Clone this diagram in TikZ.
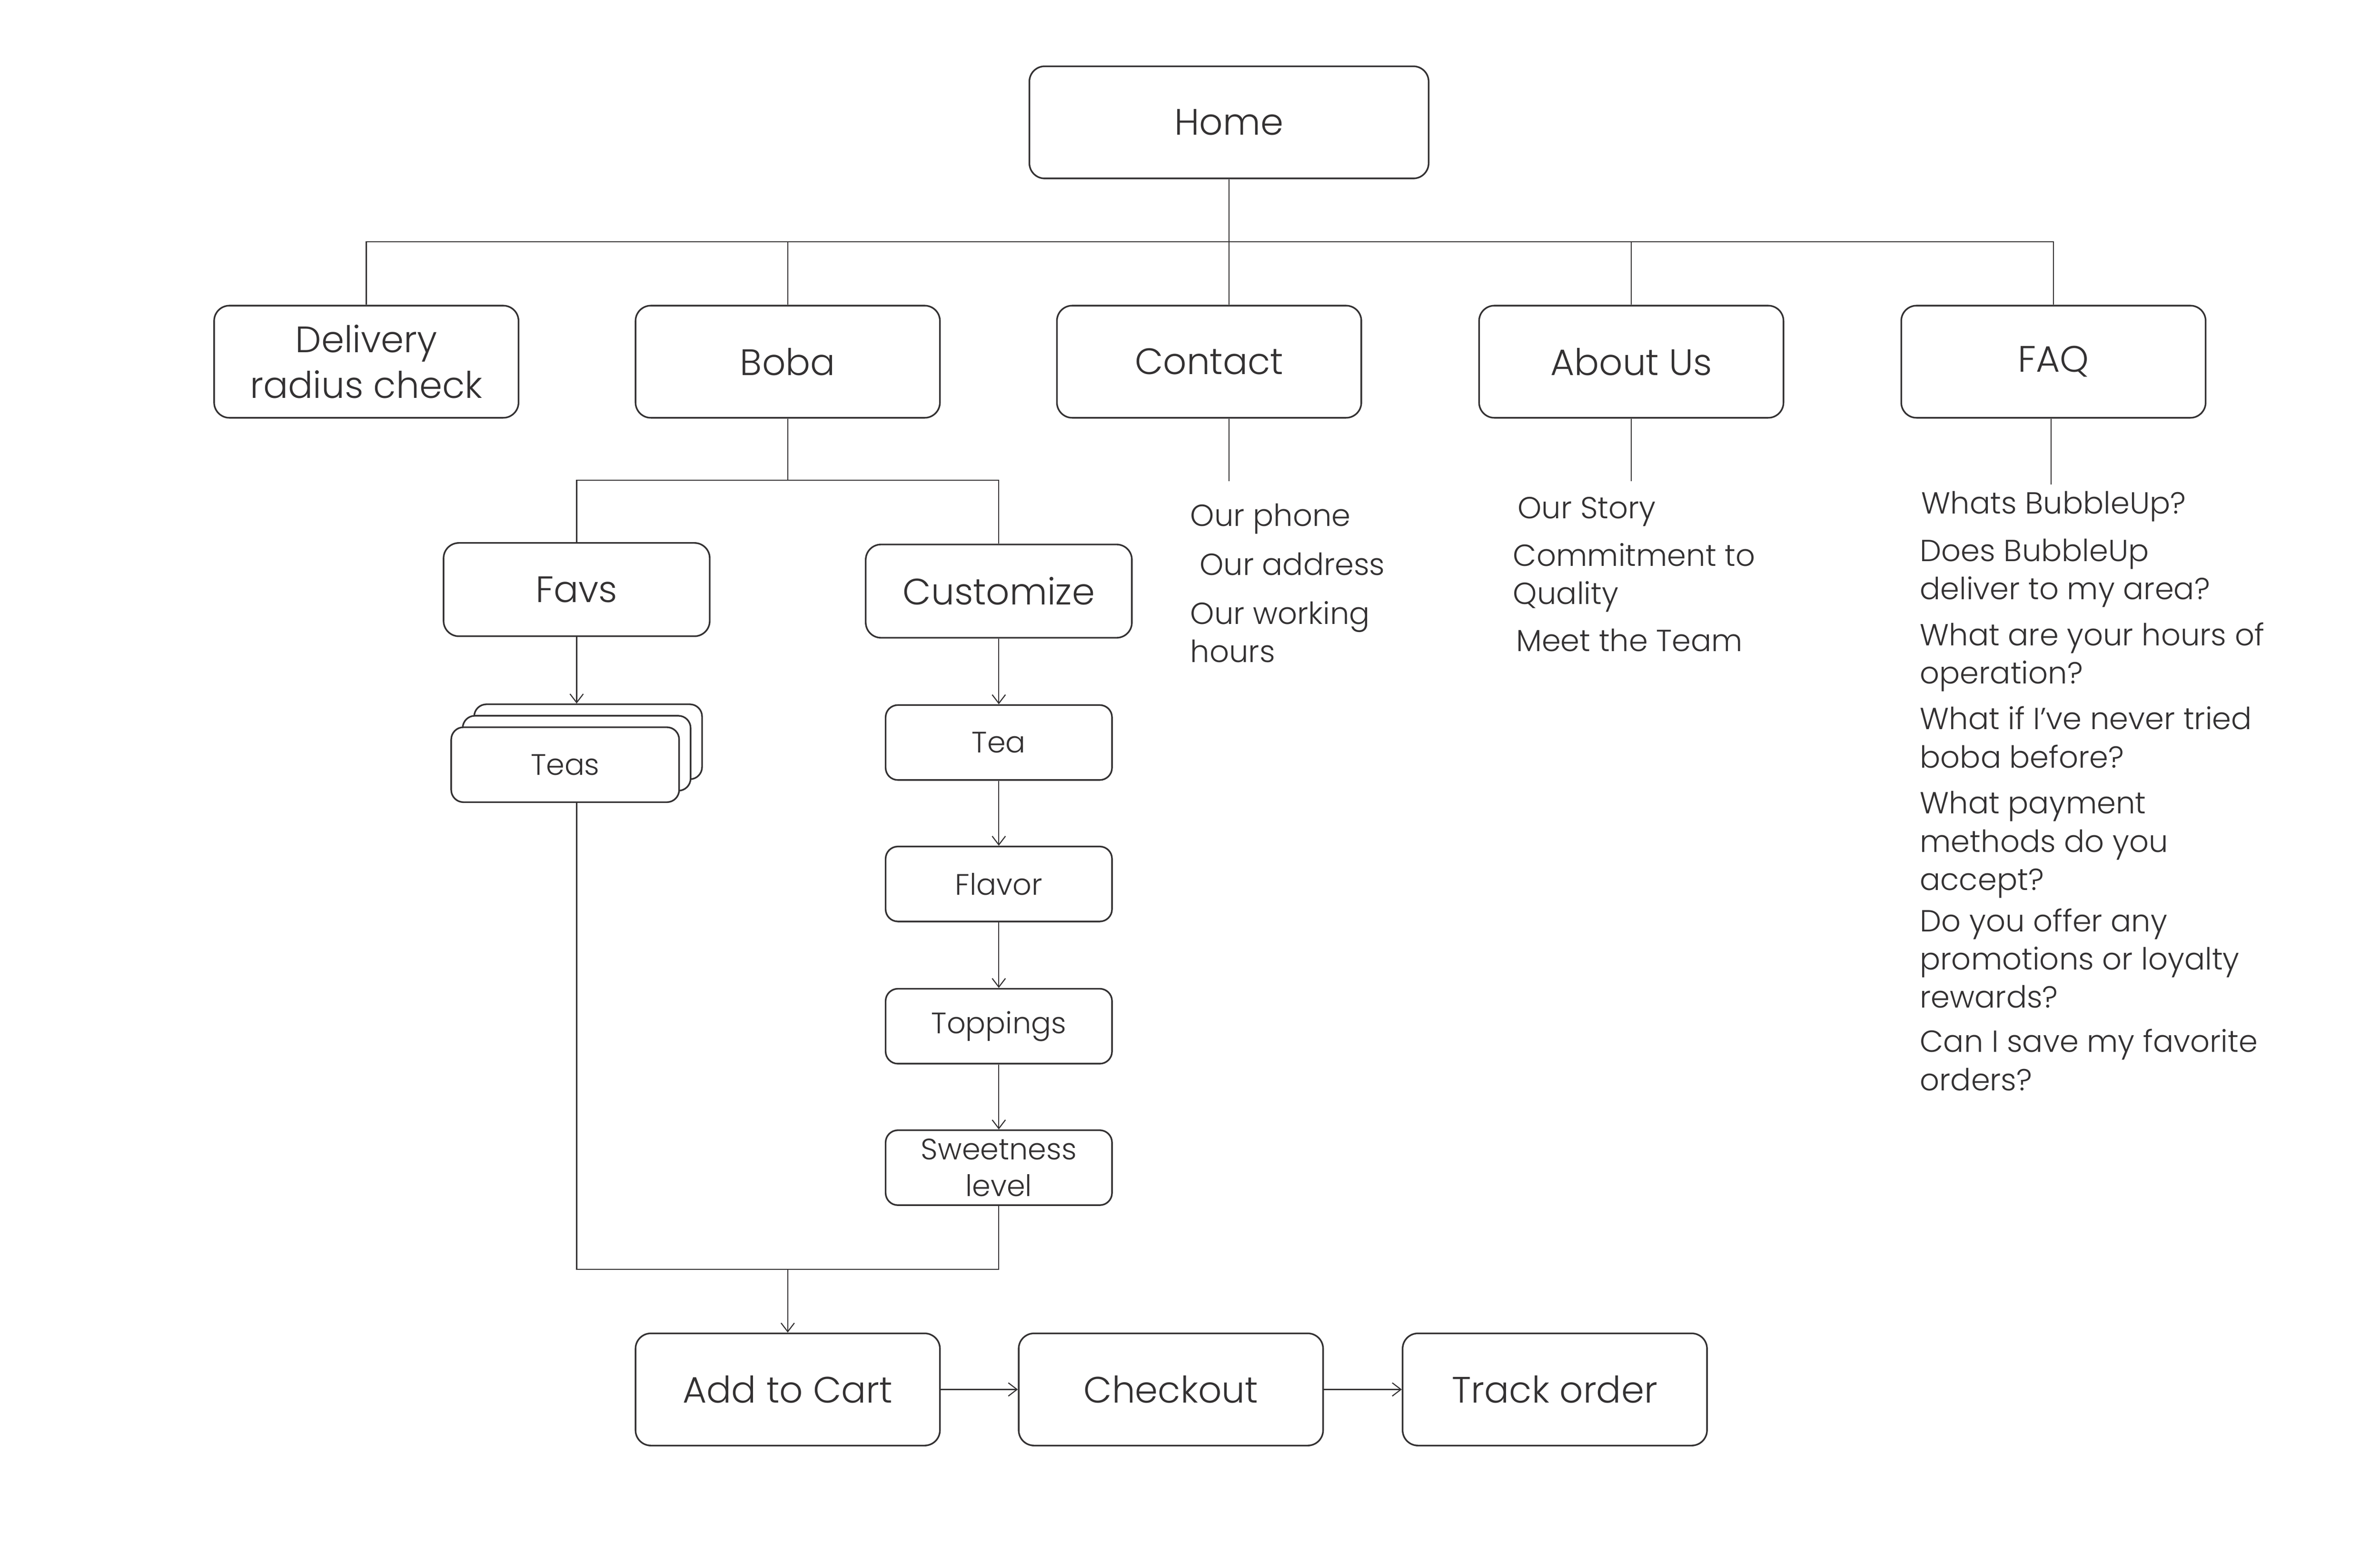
\documentclass[tikz,border=0pt]{standalone}
\usepackage{fontspec}
\setmainfont{Poppins}[UprightFont=* Light]
\usetikzlibrary{arrows.meta}
\definecolor{ink}{HTML}{333132}

\tikzset{
    bigbox/.style={draw=ink, line width=0.9pt, fill=white, rounded corners=0.3cm, minimum width=5.97cm, minimum height=2.2cm, align=center, inner sep=0pt, text=ink, font=\fontsize{20.5}{25.6}\selectfont},
    midbox/.style={bigbox, minimum width=5.22cm, minimum height=1.83cm},
    smallbox/.style={bigbox, minimum width=4.44cm, minimum height=1.47cm, rounded corners=0.24cm, font=\fontsize{16.5}{20.5}\selectfont},
    info/.style={anchor=base west, align=left, inner sep=0pt, text=ink, font=\fontsize{17}{21.3}\selectfont},
    link/.style={draw=ink, line width=0.6pt},
    flow/.style={link, -{Straight Barb[length=1.7mm, width=2.6mm]}},
}

\begin{document}
\begin{tikzpicture}[x=0.03cm, y=-0.03cm]

    \useasboundingbox (0,0) rectangle (1556,1008.7);

    % draw top level
    \node[bigbox, minimum width=7.83cm] (home) at (803.5,80) {Home};
    \node[bigbox] (delivery) at (239.5,236.5) {Delivery\\radius check};
    \node[bigbox] (boba) at (515,236.5) {Boba};
    \node[bigbox] (contact) at (790.5,236.5) {Contact};
    \node[bigbox] (about) at (1066.5,236.5) {About Us};
    \node[bigbox] (faq) at (1342.5,236.5) {FAQ};

    % draw bus lines
    \coordinate (bus) at (803.5,158);
    \draw[link] (home.south) -- (bus);
    \draw[link] (delivery.north) -- (delivery.north |- bus) -- (faq.north |- bus) -- (faq.north);
    \draw[link] (boba.north) -- (boba.north |- bus);
    \draw[link] (bus) -- (bus |- contact.north);
    \draw[link] (about.north) -- (about.north |- bus);

    % draw boba branch
    \node[midbox] (favs) at (377,385.5) {Favs};
    \node[midbox] (custom) at (653,386.5) {Customize};
    \coordinate (split) at (515,314);
    \draw[link] (boba.south) -- (split);
    \draw[link] (favs.north) |- (split) -| (custom.north);

    % draw teas stack
    \node[smallbox, minimum width=4.47cm] (teasback) at (384.5,485) {};
    \node[smallbox, minimum width=4.47cm] (teasmid) at (377,492.5) {};
    \node[smallbox, minimum width=4.47cm] (teas) at (369.5,500) {Teas};
    \draw[flow] (favs.south) -- (favs.south |- teasback.north);

    % draw customize steps
    \node[smallbox] (tea) at (653,485.5) {Tea};
    \node[smallbox] (flavor) at (653,578) {Flavor};
    \node[smallbox] (toppings) at (653,671) {Toppings};
    \node[smallbox] (sweet) at (653,763.5) {Sweetness\\level};
    \draw[flow] (custom) -- (tea);
    \draw[flow] (tea) -- (flavor);
    \draw[flow] (flavor) -- (toppings);
    \draw[flow] (toppings) -- (sweet);

    % draw order row
    \node[bigbox] (cart) at (515,908.5) {Add to Cart};
    \node[bigbox] (checkout) at (765.5,908.5) {Checkout};
    \node[bigbox] (track) at (1016.5,908.5) {Track order};
    \coordinate (merge) at (515,830);
    \draw[link] (teas.south -| favs.south) |- (merge) -| (sweet.south);
    \draw[flow] (merge) -- (cart.north);
    \draw[flow] (cart) -- (checkout);
    \draw[flow] (checkout) -- (track);

    % add contact items (base = last line)
    \draw[link] (contact.south -| bus) -- ++(0,41);
    \node[info] (phone) at (778,344) {Our phone};
    \node[info] (address) at (784,376) {Our address};
    \node[info] (hours) at (778,433) {Our working\\hours};

    % add about items
    \draw[link] (about.south) -- ++(0,41);
    \node[info] (story) at (992,339) {Our Story};
    \node[info] (quality) at (989,395) {Commitment to\\Quality};
    \node[info] (team) at (991,426) {Meet the Team};

    % add faq items
    \draw[link] (faq.south -| 1341,0) -- ++(0,43);
    \node[info] (q1) at (1256,336) {Whats BubbleUp?};
    \node[info] (q2) at (1255,392) {Does BubbleUp\\deliver to my area?};
    \node[info] (q3) at (1255,447) {What are your hours of\\operation?};
    \node[info] (q4) at (1255,502) {What if I’ve never tried\\boba before?};
    \node[info] (q5) at (1255,582) {What payment\\methods do you\\accept?};
    \node[info] (q6) at (1255,659) {Do you offer any\\promotions or loyalty\\rewards?};
    \node[info] (q7) at (1255,713) {Can I save my favorite\\orders?};

\end{tikzpicture}
\end{document}
